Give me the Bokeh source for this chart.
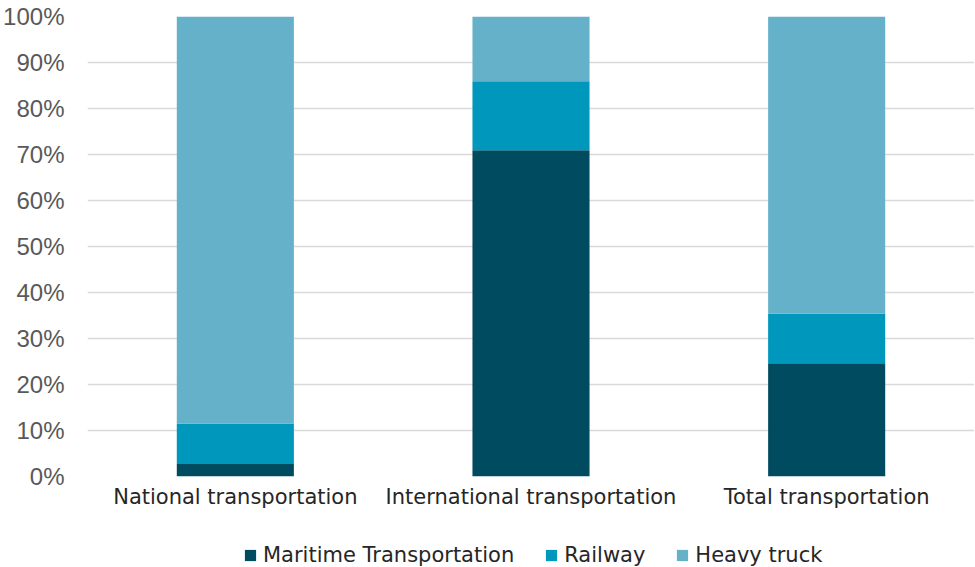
from bokeh.plotting import figure
from bokeh.layouts import column
from bokeh.models import FactorRange, Legend, LegendItem, NumeralTickFormatter, FixedTicker, Range1d
from bokeh.embed import file_html
from bokeh.resources import INLINE

categories = ["National transportation", "International transportation", "Total transportation"]
maritime = [0.027, 0.709, 0.246]
railway = [0.088, 0.150, 0.108]
heavy_truck = [0.885, 0.141, 0.646]
series_names = ["Maritime Transportation", "Railway", "Heavy truck"]
colors = ["#004B5F", "#0097BD", "#66B1CA"]

data = {"cat": categories, "m": maritime, "r": railway, "h": heavy_truck}

p = figure(x_range=FactorRange(*categories, range_padding=0), y_range=Range1d(0, 1),
           frame_width=887, frame_height=460, output_backend="svg", toolbar_location=None,
           min_border_left=80, min_border_right=0, min_border_top=16, min_border_bottom=29)

rs = p.vbar_stack(["m", "r", "h"], x="cat", width=0.396, color=colors, source=data,
                  line_color=None)

p.yaxis.ticker = FixedTicker(ticks=[i / 10 for i in range(11)])
p.yaxis.formatter = NumeralTickFormatter(format="0%")
p.yaxis.axis_line_color = None
p.yaxis.major_tick_line_color = None
p.yaxis.minor_tick_line_color = None
p.yaxis.major_label_text_font = "Liberation Sans"
p.yaxis.major_label_text_font_size = "24px"
p.yaxis.major_label_text_color = "#595959"
p.yaxis.major_label_standoff = 17

p.xaxis.axis_line_color = None
p.xaxis.major_tick_line_color = None
p.xaxis.major_label_text_font = "DejaVu Sans"
p.xaxis.major_label_text_font_size = "21px"
p.xaxis.major_label_text_color = "#262626"
p.xaxis.major_label_standoff = 2

p.xgrid.grid_line_color = None
p.ygrid.grid_line_color = "#D9D9D9"
p.ygrid.grid_line_width = 1.5
p.outline_line_color = None

# legend strip below the chart (dummy renderers lie outside the visible range)
lg = figure(x_range=Range1d(0, 1), y_range=Range1d(0, 1), frame_width=967, frame_height=56,
            output_backend="svg", toolbar_location=None, x_axis_type=None, y_axis_type=None,
            min_border=0)
lg.grid.visible = False
lg.outline_line_color = None
dummies = [lg.vbar(x=[-10], top=[-10], bottom=[-11], width=0.1, color=c, line_color=None)
           for c in colors]

legend = Legend(items=[LegendItem(label=n, renderers=[r]) for n, r in zip(series_names, dummies)],
                orientation="horizontal", location=(243, 0),
                label_text_font="DejaVu Sans", label_text_font_size="21px",
                label_text_color="#262626", glyph_width=14, glyph_height=14,
                spacing=30, label_standoff=6, border_line_color=None,
                background_fill_alpha=0, margin=0, padding=0, label_height=22)
lg.add_layout(legend, "center")

layout = column(p, lg, spacing=0)
open("out.html", "w").write(file_html(layout, INLINE))
